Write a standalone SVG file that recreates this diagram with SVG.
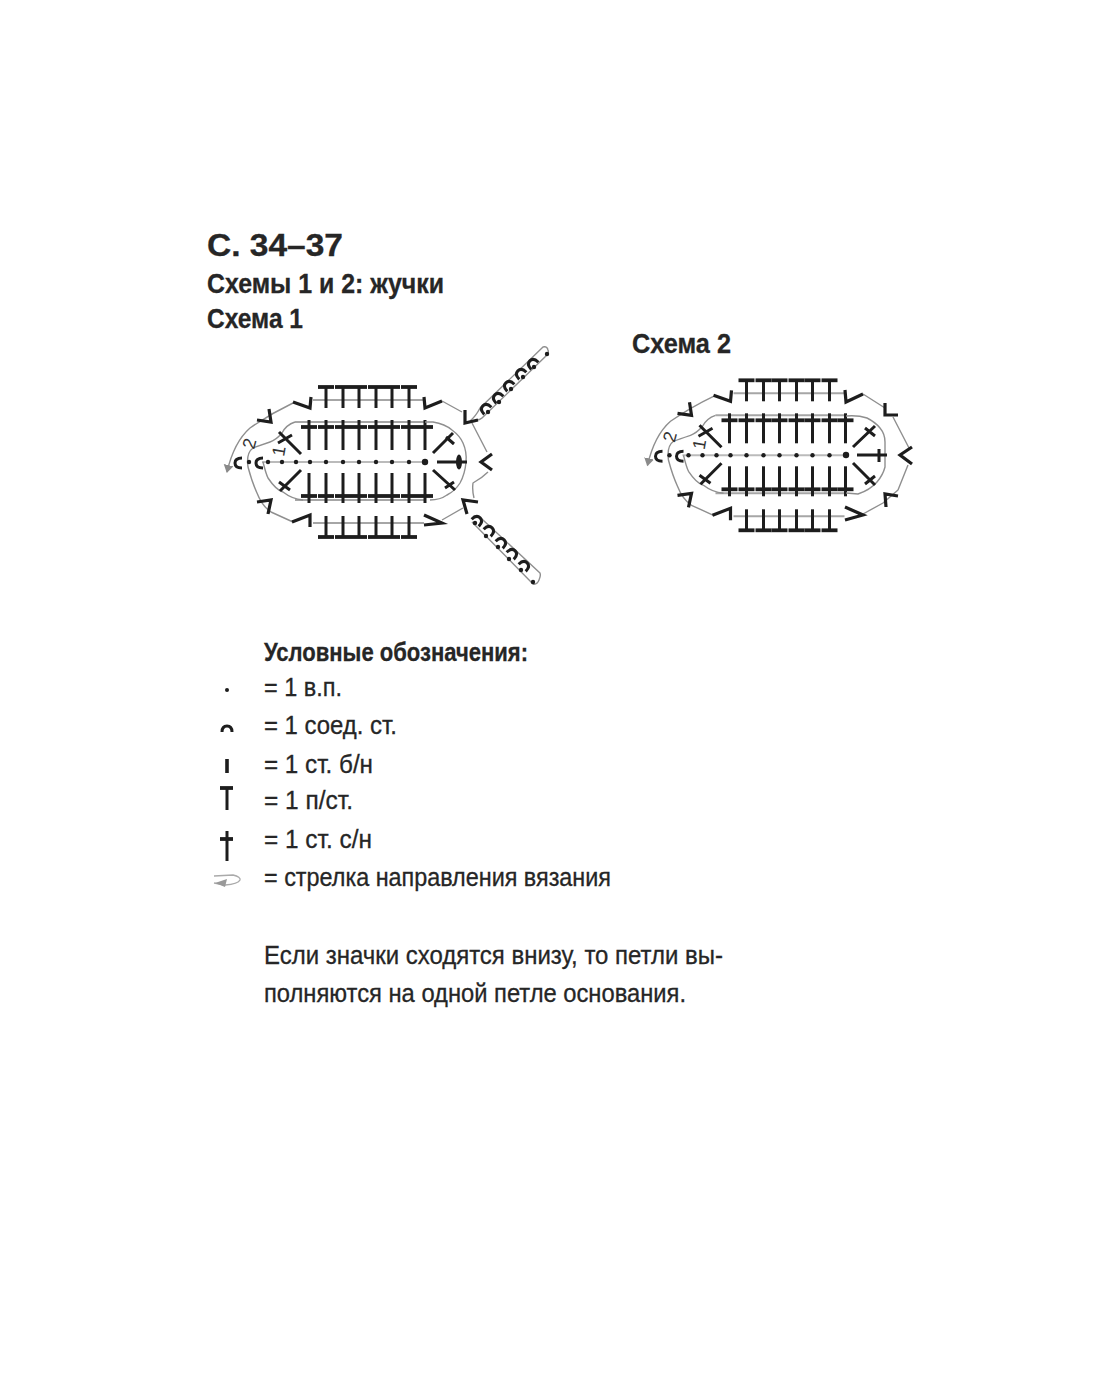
<svg xmlns="http://www.w3.org/2000/svg" xmlns:xlink="http://www.w3.org/1999/xlink" width="1101" height="1400" viewBox="0 0 1101 1400">
<style>
text{font-family:"Liberation Sans",Arial,sans-serif;fill:#262626;stroke:#262626;stroke-width:.3}
.b{font-weight:bold}
.l{font-size:26px}
.g{fill:none;stroke:#8f8f8f;stroke-width:1.4;stroke-linejoin:round}
.r{fill:none;stroke:#a6a6a6;stroke-width:2}
.k{fill:none;stroke:#1d1d1d;stroke-width:3}
.h{fill:none;stroke:#1d1d1d;stroke-width:3.8}
.v{fill:none;stroke:#1d1d1d;stroke-width:3.2}
.a{fill:none;stroke:#1d1d1d;stroke-width:3}
.d{fill:#1d1d1d}
.n{font-size:18px;fill:#333;stroke:none}
</style>
<defs>
<g id="tu"><path class="h" d="M-8 0H8"/><path class="k" d="M0 0V21"/></g>
<g id="td"><path class="h" d="M-8 0H8"/><path class="k" d="M0 0V-21"/></g>
<g id="xu"><path class="h" d="M-8 0H8"/><path class="k" d="M0-7V23"/></g>
<g id="xd"><path class="h" d="M-8 0H8"/><path class="k" d="M0 7V-23"/></g>
<circle id="dot" class="d" r="2.2"/>
<path id="cc" class="a" d="M4-5Q-3-5-3 0Q-3 5 4 5"/>
<path id="ca" class="a" d="M-5 4Q-5-3 0-3Q5-3 5 4"/>
<marker id="ah" markerWidth="9" markerHeight="12" refX="7" refY="5" orient="auto" markerUnits="userSpaceOnUse"><path d="M0 0L8 5L0 10Z" fill="#8a8a8a"/></marker>
<g id="left">
<path class="r" d="M313 400H424M295 422H425M295 500H425M313 523H424"/>
<path class="r" style="stroke:#bbb" d="M262 462H425"/>
<path class="g" d="M293 403Q270 414 250 428Q234 442 227 472" marker-end="url(#ah)"/>
<path class="g" d="M295 422Q286 425 282 433Q276 440 270 442Q258 446 253 448Q246 453 248 467Q252 482 257 493Q262 506 271 512L293 522"/>
<path class="g" d="M263 462Q266 474 268 478Q276 490 283 492Q292 499 303 500"/>
<path class="v" d="M293 402L310 408L311 397"/>
<path class="v" d="M269 409L271 422L257 420"/>
<path class="v" d="M257 502L271 500L268 514"/>
<path class="v" d="M292 522L310 515V527"/>
<use href="#cc" x="238" y="463"/><use href="#cc" x="259" y="463"/>
<use href="#dot" x="249" y="462"/>
<text class="n" transform="translate(284 457) rotate(-80)">1</text>
<text class="n" transform="translate(254 450) rotate(-75)">2</text>
<path class="k" d="M301 454L279 432M278 443L292 435M301 470L280 491M279 482L290 490"/>
<use href="#tu" x="326" y="387"/><use href="#tu" x="343" y="387"/><use href="#tu" x="359" y="387"/><use href="#tu" x="376" y="387"/><use href="#tu" x="392" y="387"/><use href="#tu" x="409" y="387"/>
<use href="#xu" x="309" y="427"/><use href="#xu" x="326" y="427"/><use href="#xu" x="343" y="427"/><use href="#xu" x="359" y="427"/><use href="#xu" x="376" y="427"/><use href="#xu" x="392" y="427"/><use href="#xu" x="409" y="427"/><use href="#xu" x="425" y="427"/>
<use href="#xd" x="309" y="496"/><use href="#xd" x="326" y="496"/><use href="#xd" x="343" y="496"/><use href="#xd" x="359" y="496"/><use href="#xd" x="376" y="496"/><use href="#xd" x="392" y="496"/><use href="#xd" x="409" y="496"/><use href="#xd" x="425" y="496"/>
<use href="#td" x="326" y="537"/><use href="#td" x="343" y="537"/><use href="#td" x="359" y="537"/><use href="#td" x="376" y="537"/><use href="#td" x="392" y="537"/><use href="#td" x="409" y="537"/>
<use href="#dot" x="268" y="462"/><use href="#dot" x="282" y="462"/><use href="#dot" x="296" y="462"/><use href="#dot" x="310" y="462"/><use href="#dot" x="326" y="462"/><use href="#dot" x="343" y="462"/><use href="#dot" x="359" y="462"/><use href="#dot" x="376" y="462"/><use href="#dot" x="392" y="462"/><use href="#dot" x="409" y="462"/>
</g>
</defs>
<rect width="1101" height="1400" fill="#fff"/>
<g id="titles">
<text class="b" x="207" y="256" font-size="31" textLength="136" lengthAdjust="spacingAndGlyphs">С. 34–37</text>
<text class="b" x="207" y="293" font-size="27" textLength="237" lengthAdjust="spacingAndGlyphs">Схемы 1 и 2: жучки</text>
<text class="b" x="207" y="328" font-size="27" textLength="96" lengthAdjust="spacingAndGlyphs">Схема 1</text>
<text class="b" x="632" y="353" font-size="27" textLength="99" lengthAdjust="spacingAndGlyphs">Схема 2</text>
</g>
<g id="scheme1">
<use href="#left"/>
<path class="g" d="M425 422H433Q445 424 452 430Q460 436 463 443Q467 452 466 462Q465 474 460 483Q455 491 447 495Q440 500 430 500"/>
<path class="g" d="M442 401L462 412M472 423L487 452M488 472Q482 478 473 483Q472 490 474 498M463 508L442 520"/>
<path class="g" d="M470 421Q476 416 480 408L543 347Q547 346 548 350Q549 353 547 355L482 418Q480 420 476 420M472 522L533 584Q537 585 539 580Q541 576 540 573L483 520Q476 514 473 517"/>
<path class="v" d="M424 397L425 408L442 401"/>
<path class="v" d="M465 410V423L478 420"/>
<path class="v" d="M492 454L481 462L492 470"/>
<path class="v" d="M478 502L463 500L467 514"/>
<path class="v" d="M424 515L442 523L424 525"/>
<path class="k" d="M433 453L453 433M446 437L454 444M433 470L455 490M445 488L454 482M437 462H467"/>
<ellipse class="d" cx="459" cy="462" rx="3" ry="7.5"/>
<circle class="d" cx="425" cy="462" r="3.2"/>
<g transform="rotate(-45 485 408)"><use href="#ca" x="485" y="408"/></g>
<g transform="rotate(-45 497 397)"><use href="#ca" x="497" y="397"/></g>
<g transform="rotate(-45 508 385)"><use href="#ca" x="508" y="385"/></g>
<g transform="rotate(-45 520 373)"><use href="#ca" x="520" y="373"/></g>
<g transform="rotate(-45 532 363)"><use href="#ca" x="532" y="363"/></g>
<use href="#dot" x="488" y="412"/><use href="#dot" x="499" y="402"/><use href="#dot" x="511" y="389"/><use href="#dot" x="523" y="377"/><use href="#dot" x="534" y="367"/><use href="#dot" x="547" y="354"/>
<g transform="rotate(45 478 520)"><use href="#ca" x="478" y="520"/></g>
<g transform="rotate(45 490 530)"><use href="#ca" x="490" y="530"/></g>
<g transform="rotate(45 502 542)"><use href="#ca" x="502" y="542"/></g>
<g transform="rotate(45 513 553)"><use href="#ca" x="513" y="553"/></g>
<g transform="rotate(45 525 565)"><use href="#ca" x="525" y="565"/></g>
<use href="#dot" x="475" y="523"/><use href="#dot" x="486" y="536"/><use href="#dot" x="498" y="547"/><use href="#dot" x="509" y="559"/><use href="#dot" x="521" y="570"/><use href="#dot" x="533" y="582"/>
</g>
<g id="scheme2">
<use href="#left" x="420.5" y="-6.7"/>
<path class="g" d="M846 416Q858 415 867 418Q875 422 880 428Q885 434 885 442V467Q883 475 877 482Q870 490 858 494L846 493"/>
<path class="g" d="M863 394L885 408M893 417L909 448M908 465L898 490M898 490Q890 497 883 503L863 514"/>
<path class="v" d="M845 390L846 402L863 394"/>
<path class="v" d="M885 403V415L898 415"/>
<path class="v" d="M912 447L900 455L912 464"/>
<path class="v" d="M898 496L885 494L886 507"/>
<path class="v" d="M845 507L863 515L845 520"/>
<path class="k" d="M853 447L875 426M865 428L875 436M853 463L875 485M865 484L875 476M857 455H887M879 449V462"/>
<circle class="d" cx="846" cy="455" r="3.2"/>
</g>
<g id="legend">
<text class="b" x="264" y="661" font-size="26" textLength="264" lengthAdjust="spacingAndGlyphs">Условные обозначения:</text>
<g id="lg-chain"><circle class="d" cx="227" cy="690" r="2"/><text class="l" x="264" y="696" textLength="78" lengthAdjust="spacingAndGlyphs">= 1 в.п.</text></g>
<g id="lg-slip"><path class="a" style="stroke-width:3" d="M222 732Q222 726 227 726Q232 726 232 732"/><text class="l" x="264" y="734" textLength="133" lengthAdjust="spacingAndGlyphs">= 1 соед. ст.</text></g>
<g id="lg-sc"><path class="k" style="stroke-width:3.6" d="M227 759V773"/><text class="l" x="264" y="773" textLength="109" lengthAdjust="spacingAndGlyphs">= 1 ст. б/н</text></g>
<g id="lg-hdc"><path class="h" d="M220 788H233"/><path class="k" d="M227 788V810"/><text class="l" x="264" y="809" textLength="89" lengthAdjust="spacingAndGlyphs">= 1 п/ст.</text></g>
<g id="lg-dc"><path class="h" d="M220 839H233"/><path class="k" d="M227 831V861"/><text class="l" x="264" y="848" textLength="108" lengthAdjust="spacingAndGlyphs">= 1 ст. с/н</text></g>
<g id="lg-arrow"><path class="g" style="stroke:#aaa" d="M214 876L233 875Q241 877 240 880Q238 884 225 885L214 883"/><path d="M215 883L227 879L225 887Z" fill="#999"/><text class="l" x="264" y="886" textLength="347" lengthAdjust="spacingAndGlyphs">= стрелка направления вязания</text></g>
</g>
<g id="note">
<text class="l" x="264" y="964" textLength="459" lengthAdjust="spacingAndGlyphs">Если значки сходятся внизу, то петли вы-</text>
<text class="l" x="264" y="1002" textLength="422" lengthAdjust="spacingAndGlyphs">полняются на одной петле основания.</text>
</g>
</svg>
